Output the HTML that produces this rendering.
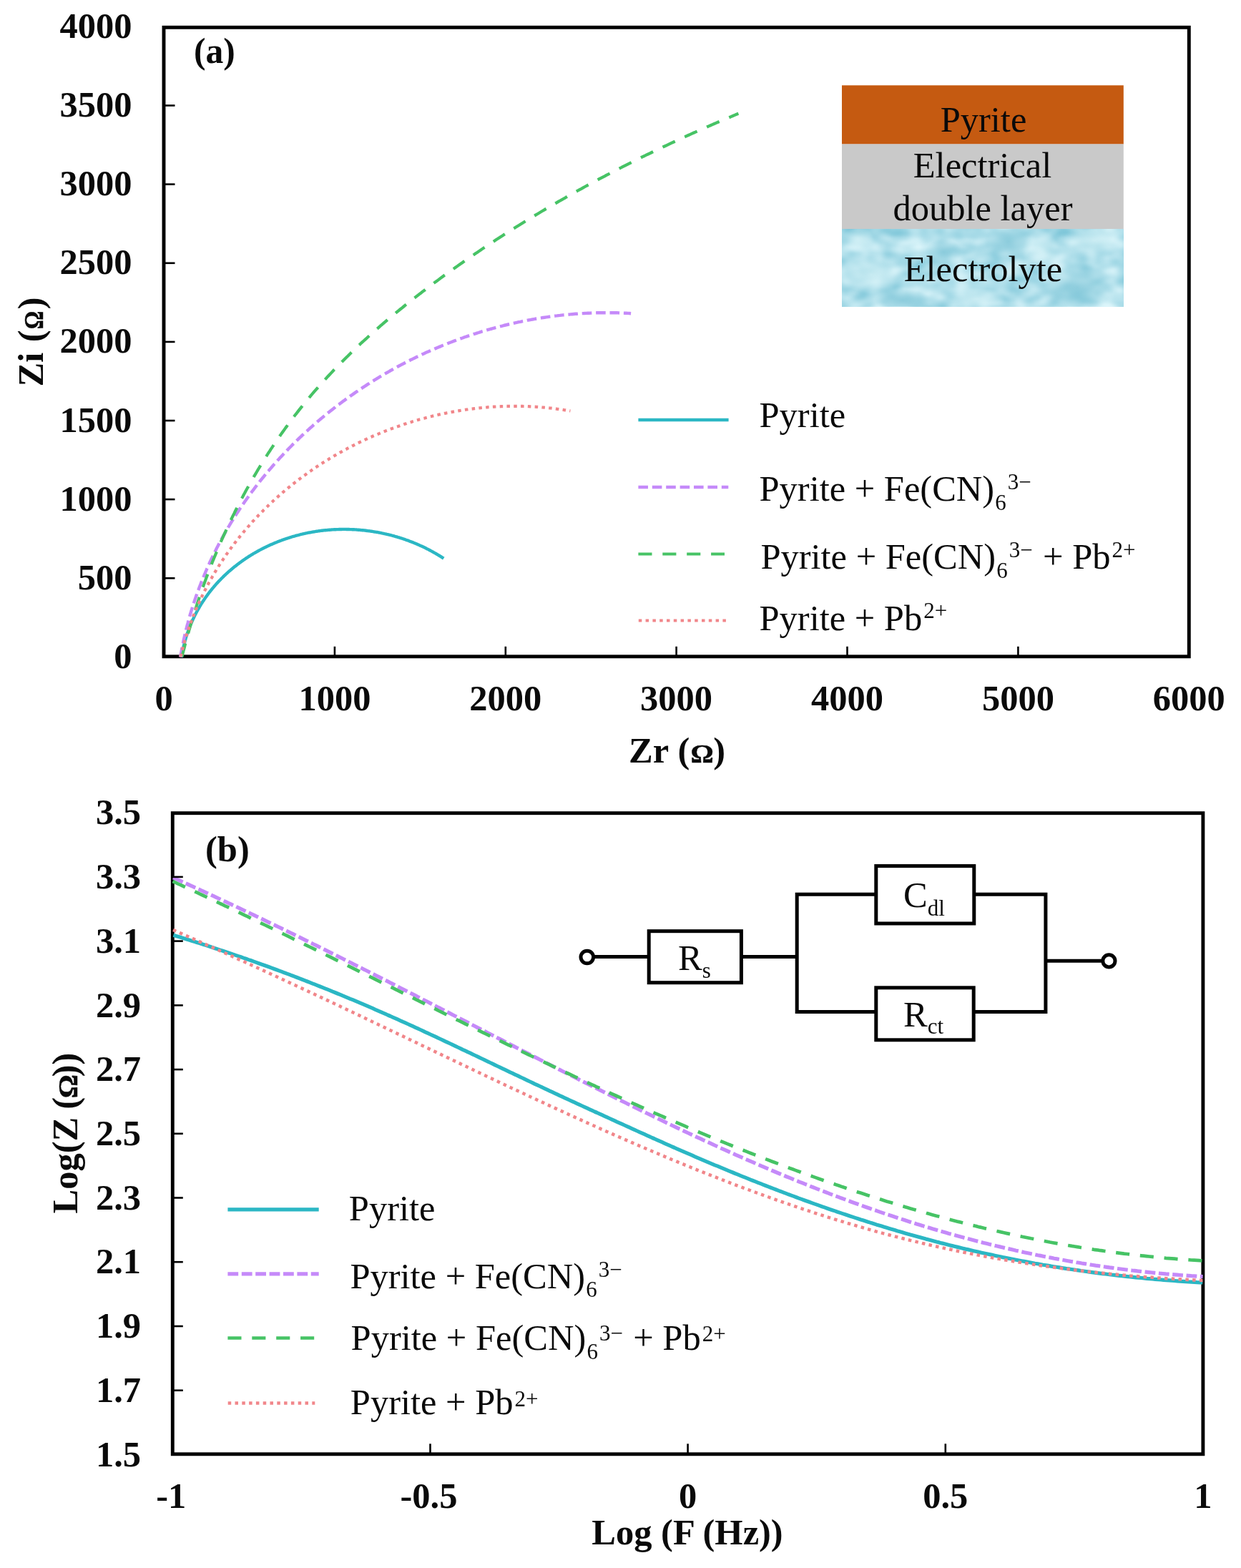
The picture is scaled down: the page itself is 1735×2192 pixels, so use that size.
<!DOCTYPE html>
<html lang="en"><head><meta charset="utf-8"><title>EIS Nyquist and Bode plots</title>
<style>
html,body{margin:0;padding:0;background:#fff;}
body{width:1735px;height:2192px;overflow:hidden;}
svg{display:block;}
text{font-family:"Liberation Serif","DejaVu Serif",serif;fill:#0a0a0a;}
.b{font-weight:bold;font-size:50.5px;}
.r{font-weight:normal;font-size:50.5px;}
.om{font-size:37px;stroke:#0a0a0a;stroke-width:0.5px;}
.ss{font-size:31px;}
.fr{fill:none;stroke:#000;stroke-width:4.9;}
.tk{fill:none;stroke:#000;stroke-width:2.6;}
.c{fill:none;stroke-width:4.4;stroke-linejoin:round;}
#plot-b .c{stroke-width:5.2;}
.c.gr{stroke-width:4.2;}
.c.re{stroke-width:4.2;}
#plot-b .c.gr{stroke-width:4.7;}
#plot-b .c.re{stroke-width:4.5;}
.cy{stroke:#2bb7c4;}
.pu{stroke:#c58af9;stroke-dasharray:13.6 5.8;}
#plot-b .pu{stroke-dasharray:14.8 4.6;}
.c.pu{stroke-width:4.4;}
#plot-b .c.pu{stroke-width:5.2;}
.gr{stroke:#46c365;stroke-dasharray:19.1 14.8;}
.re{stroke:#f1868a;stroke-dasharray:4.5 5.3;}
.ck{fill:none;stroke:#000;stroke-width:5;}
</style></head><body>
<svg width="1735" height="2192" viewBox="0 0 1735 2192">
<defs>
<filter id="water" x="0" y="0" width="100%" height="100%" color-interpolation-filters="sRGB">
<feTurbulence type="fractalNoise" baseFrequency="0.03 0.045" numOctaves="2" seed="11" result="n"/>
<feColorMatrix in="n" type="matrix" values="0.5 0 0 0 0.44  0.25 0 0 0 0.75  0.18 0 0 0 0.83  0 0 0 0 1"/>
</filter>
<radialGradient id="wd" cx="0.5" cy="0.5" r="0.5"><stop offset="0" stop-color="#86c9da" stop-opacity="0.85"/><stop offset="1" stop-color="#86c9da" stop-opacity="0"/></radialGradient>
<radialGradient id="wl" cx="0.5" cy="0.5" r="0.5"><stop offset="0" stop-color="#d4f1f6" stop-opacity="0.8"/><stop offset="1" stop-color="#d4f1f6" stop-opacity="0"/></radialGradient>
<clipPath id="wclip"><rect x="1177" y="320.8" width="393.8" height="107.5"/></clipPath>
<filter id="soft" x="0" y="0" width="100%" height="100%" filterUnits="objectBoundingBox" color-interpolation-filters="sRGB"><feGaussianBlur stdDeviation="0.65"/></filter>
</defs>
<g filter="url(#soft)">
<rect x="0" y="0" width="1735" height="2192" fill="#fff"/>
<g id="plot-a">
<rect class="fr" x="229.0" y="38.3" width="1433.3" height="879.5"/>
<path class="c cy" d="M253.7 918.9 L253.9 917.7 L254.1 916.4 L254.3 915.2 L254.5 914.0 L254.7 912.8 L255.0 911.5 L255.2 910.3 L255.5 909.1 L255.7 907.9 L256.0 906.7 L256.2 905.5 L256.5 904.3 L256.8 903.2 L257.1 902.0 L257.4 900.8 L257.7 899.6 L258.0 898.4 L258.3 897.3 L258.6 896.1 L259.0 894.9 L259.3 893.8 L259.6 892.6 L260.0 891.5 L260.3 890.3 L260.7 889.2 L261.1 888.0 L261.4 886.9 L261.8 885.8 L262.2 884.6 L262.6 883.5 L263.0 882.4 L263.4 881.3 L263.8 880.2 L264.2 879.1 L264.6 878.0 L265.1 876.9 L265.5 875.8 L265.9 874.7 L266.4 873.6 L266.8 872.5 L267.3 871.4 L267.8 870.3 L268.2 869.2 L268.7 868.2 L269.2 867.1 L269.7 866.0 L270.2 865.0 L270.7 863.9 L271.2 862.9 L271.7 861.8 L272.2 860.8 L272.7 859.7 L273.3 858.7 L273.8 857.7 L274.3 856.6 L274.9 855.6 L275.4 854.6 L276.0 853.6 L276.5 852.6 L277.1 851.6 L277.7 850.6 L278.3 849.6 L278.9 848.6 L279.4 847.6 L280.0 846.6 L280.6 845.6 L281.2 844.6 L281.9 843.6 L282.5 842.7 L283.1 841.7 L283.7 840.7 L284.4 839.8 L285.0 838.8 L285.6 837.9 L286.3 836.9 L286.9 836.0 L287.6 835.0 L288.3 834.1 L288.9 833.2 L289.6 832.3 L290.3 831.3 L291.0 830.4 L291.6 829.5 L292.3 828.6 L293.0 827.7 L293.7 826.8 L294.4 825.9 L295.2 825.0 L295.9 824.1 L296.6 823.2 L297.3 822.3 L298.1 821.5 L298.8 820.6 L299.5 819.7 L300.3 818.9 L301.0 818.0 L301.8 817.1 L302.5 816.3 L303.3 815.4 L304.1 814.6 L304.8 813.8 L305.6 812.9 L306.4 812.1 L307.2 811.3 L308.0 810.5 L308.8 809.6 L309.6 808.8 L310.4 808.0 L311.2 807.2 L312.0 806.4 L312.8 805.6 L313.6 804.8 L314.5 804.1 L315.3 803.3 L316.1 802.5 L316.9 801.7 L317.8 801.0 L318.6 800.2 L319.5 799.4 L320.3 798.7 L321.2 797.9 L322.1 797.2 L322.9 796.4 L323.8 795.7 L324.7 795.0 L325.5 794.2 L326.4 793.5 L327.3 792.8 L328.2 792.1 L329.1 791.4 L330.0 790.7 L330.9 790.0 L331.8 789.3 L332.7 788.6 L333.6 787.9 L334.5 787.2 L335.4 786.5 L336.3 785.9 L337.3 785.2 L338.2 784.5 L339.1 783.9 L340.0 783.2 L341.0 782.6 L341.9 781.9 L342.9 781.3 L343.8 780.6 L344.8 780.0 L345.7 779.4 L346.7 778.8 L347.6 778.1 L348.6 777.5 L349.6 776.9 L350.5 776.3 L351.5 775.7 L352.5 775.1 L353.5 774.5 L354.4 773.9 L355.4 773.4 L356.4 772.8 L357.4 772.2 L358.4 771.7 L359.4 771.1 L360.4 770.5 L361.4 770.0 L362.4 769.4 L363.4 768.9 L364.4 768.4 L365.4 767.8 L366.5 767.3 L367.5 766.8 L368.5 766.3 L369.5 765.7 L370.5 765.2 L371.6 764.7 L372.6 764.2 L373.6 763.7 L374.7 763.3 L375.7 762.8 L376.8 762.3 L377.8 761.8 L378.9 761.3 L379.9 760.9 L381.0 760.4 L382.0 760.0 L383.1 759.5 L384.1 759.1 L385.2 758.6 L386.3 758.2 L387.3 757.8 L388.4 757.3 L389.5 756.9 L390.5 756.5 L391.6 756.1 L392.7 755.7 L393.8 755.3 L394.8 754.9 L395.9 754.5 L397.0 754.1 L398.1 753.7 L399.2 753.4 L400.3 753.0 L401.4 752.6 L402.5 752.3 L403.6 751.9 L404.7 751.6 L405.8 751.2 L406.9 750.9 L408.0 750.5 L409.1 750.2 L410.2 749.9 L411.3 749.6 L412.4 749.3 L413.5 748.9 L414.6 748.6 L415.7 748.3 L416.8 748.1 L418.0 747.8 L419.1 747.5 L420.2 747.2 L421.3 746.9 L422.4 746.7 L423.6 746.4 L424.7 746.1 L425.8 745.9 L427.0 745.6 L428.1 745.4 L429.2 745.2 L430.3 744.9 L431.5 744.7 L432.6 744.5 L433.8 744.3 L434.9 744.1 L436.0 743.9 L437.2 743.7 L438.3 743.5 L439.4 743.3 L440.6 743.1 L441.7 742.9 L442.9 742.7 L444.0 742.6 L445.2 742.4 L446.3 742.2 L447.5 742.1 L448.6 741.9 L449.8 741.8 L450.9 741.7 L452.1 741.5 L453.2 741.4 L454.4 741.3 L455.5 741.2 L456.7 741.1 L457.8 741.0 L459.0 740.9 L460.1 740.8 L461.3 740.7 L462.5 740.6 L463.6 740.5 L464.8 740.4 L465.9 740.4 L467.1 740.3 L468.2 740.2 L469.4 740.2 L470.6 740.1 L471.7 740.1 L472.9 740.1 L474.0 740.0 L475.2 740.0 L476.4 740.0 L477.5 740.0 L478.7 739.9 L479.8 739.9 L481.0 739.9 L482.2 739.9 L483.3 739.9 L484.5 740.0 L485.6 740.0 L486.8 740.0 L488.0 740.0 L489.1 740.1 L490.3 740.1 L491.5 740.1 L492.6 740.2 L493.8 740.2 L494.9 740.3 L496.1 740.4 L497.3 740.4 L498.4 740.5 L499.6 740.6 L500.7 740.7 L501.9 740.8 L503.0 740.9 L504.2 741.0 L505.4 741.1 L506.5 741.2 L507.7 741.3 L508.8 741.4 L510.0 741.5 L511.1 741.7 L512.3 741.8 L513.4 742.0 L514.6 742.1 L515.8 742.3 L516.9 742.4 L518.1 742.6 L519.2 742.7 L520.4 742.9 L521.5 743.1 L522.7 743.3 L523.8 743.5 L524.9 743.6 L526.1 743.8 L527.2 744.0 L528.4 744.2 L529.5 744.5 L530.7 744.7 L531.8 744.9 L532.9 745.1 L534.1 745.4 L535.2 745.6 L536.4 745.8 L537.5 746.1 L538.6 746.3 L539.8 746.6 L540.9 746.9 L542.0 747.1 L543.1 747.4 L544.3 747.7 L545.4 748.0 L546.5 748.2 L547.6 748.5 L548.8 748.8 L549.9 749.1 L551.0 749.4 L552.1 749.8 L553.2 750.1 L554.3 750.4 L555.5 750.7 L556.6 751.1 L557.7 751.4 L558.8 751.7 L559.9 752.1 L561.0 752.4 L562.1 752.8 L563.2 753.2 L564.3 753.5 L565.4 753.9 L566.5 754.3 L567.6 754.7 L568.7 755.1 L569.8 755.4 L570.9 755.8 L571.9 756.2 L573.0 756.7 L574.1 757.1 L575.2 757.5 L576.3 757.9 L577.3 758.3 L578.4 758.8 L579.5 759.2 L580.6 759.6 L581.6 760.1 L582.7 760.5 L583.8 761.0 L584.8 761.5 L585.9 761.9 L586.9 762.4 L588.0 762.9 L589.0 763.4 L590.1 763.8 L591.1 764.3 L592.2 764.8 L593.2 765.3 L594.3 765.8 L595.3 766.3 L596.3 766.9 L597.4 767.4 L598.4 767.9 L599.4 768.4 L600.4 769.0 L601.5 769.5 L602.5 770.1 L603.5 770.6 L604.5 771.2 L605.5 771.7 L606.5 772.3 L607.5 772.9 L608.5 773.4 L609.5 774.0 L610.5 774.6 L611.5 775.2 L612.5 775.8 L613.5 776.4 L614.5 777.0 L615.5 777.6 L616.5 778.2 L617.4 778.8 L618.4 779.5 L619.4 780.1 L620.3 780.7"/>
<path class="c pu" d="M252.1 918.6 L252.5 916.4 L252.9 914.2 L253.3 912.1 L253.7 909.9 L254.1 907.7 L254.5 905.5 L255.0 903.3 L255.4 901.1 L255.9 899.0 L256.3 896.8 L256.8 894.6 L257.3 892.4 L257.8 890.3 L258.3 888.1 L258.8 886.0 L259.3 883.8 L259.8 881.7 L260.3 879.5 L260.9 877.4 L261.4 875.3 L262.0 873.1 L262.6 871.0 L263.1 868.9 L263.7 866.8 L264.3 864.6 L264.9 862.5 L265.5 860.4 L266.1 858.3 L266.8 856.2 L267.4 854.1 L268.1 852.0 L268.7 849.9 L269.4 847.8 L270.0 845.7 L270.7 843.7 L271.4 841.6 L272.1 839.5 L272.8 837.4 L273.5 835.4 L274.2 833.3 L275.0 831.3 L275.7 829.2 L276.4 827.2 L277.2 825.1 L278.0 823.1 L278.7 821.0 L279.5 819.0 L280.3 817.0 L281.1 814.9 L281.9 812.9 L282.7 810.9 L283.5 808.9 L284.3 806.9 L285.2 804.9 L286.0 802.9 L286.9 800.9 L287.7 798.9 L288.6 796.9 L289.4 794.9 L290.3 792.9 L291.2 790.9 L292.1 789.0 L293.0 787.0 L293.9 785.0 L294.8 783.1 L295.8 781.1 L296.7 779.1 L297.6 777.2 L298.6 775.2 L299.5 773.3 L300.5 771.4 L301.5 769.4 L302.4 767.5 L303.4 765.6 L304.4 763.7 L305.4 761.7 L306.4 759.8 L307.5 757.9 L308.5 756.0 L309.5 754.1 L310.5 752.2 L311.6 750.3 L312.6 748.5 L313.7 746.6 L314.8 744.7 L315.8 742.8 L316.9 741.0 L318.0 739.1 L319.1 737.2 L320.2 735.4 L321.3 733.5 L322.4 731.7 L323.5 729.8 L324.7 728.0 L325.8 726.2 L326.9 724.3 L328.1 722.5 L329.3 720.7 L330.4 718.9 L331.6 717.1 L332.8 715.3 L333.9 713.5 L335.1 711.7 L336.3 709.9 L337.5 708.1 L338.8 706.3 L340.0 704.5 L341.2 702.8 L342.4 701.0 L343.7 699.2 L344.9 697.5 L346.2 695.7 L347.4 694.0 L348.7 692.2 L349.9 690.5 L351.2 688.8 L352.5 687.0 L353.8 685.3 L355.1 683.6 L356.4 681.9 L357.7 680.2 L359.0 678.5 L360.3 676.8 L361.7 675.1 L363.0 673.4 L364.3 671.7 L365.7 670.0 L367.0 668.3 L368.4 666.7 L369.8 665.0 L371.1 663.3 L372.5 661.7 L373.9 660.0 L375.3 658.4 L376.7 656.7 L378.1 655.1 L379.5 653.5 L380.9 651.8 L382.3 650.2 L383.7 648.6 L385.2 647.0 L386.6 645.4 L388.0 643.8 L389.5 642.2 L390.9 640.6 L392.4 639.0 L393.9 637.4 L395.3 635.9 L396.8 634.3 L398.3 632.7 L399.8 631.2 L401.3 629.6 L402.8 628.1 L404.3 626.5 L405.8 625.0 L407.3 623.5 L408.8 621.9 L410.3 620.4 L411.9 618.9 L413.4 617.4 L414.9 615.9 L416.5 614.4 L418.0 612.9 L419.6 611.4 L421.2 609.9 L422.7 608.4 L424.3 607.0 L425.9 605.5 L427.5 604.0 L429.1 602.6 L430.7 601.1 L432.3 599.7 L433.9 598.2 L435.5 596.8 L437.1 595.4 L438.7 593.9 L440.3 592.5 L442.0 591.1 L443.6 589.7 L445.2 588.3 L446.9 586.9 L448.5 585.5 L450.2 584.1 L451.9 582.7 L453.5 581.4 L455.2 580.0 L456.9 578.6 L458.5 577.3 L460.2 575.9 L461.9 574.6 L463.6 573.2 L465.3 571.9 L467.0 570.6 L468.7 569.3 L470.4 567.9 L472.1 566.6 L473.9 565.3 L475.6 564.0 L477.3 562.7 L479.0 561.4 L480.8 560.2 L482.5 558.9 L484.3 557.6 L486.0 556.4 L487.8 555.1 L489.5 553.8 L491.3 552.6 L493.1 551.4 L494.9 550.1 L496.6 548.9 L498.4 547.7 L500.2 546.5 L502.0 545.2 L503.8 544.0 L505.6 542.8 L507.4 541.6 L509.2 540.5 L511.0 539.3 L512.8 538.1 L514.6 536.9 L516.5 535.8 L518.3 534.6 L520.1 533.5 L522.0 532.3 L523.8 531.2 L525.6 530.1 L527.5 528.9 L529.3 527.8 L531.2 526.7 L533.0 525.6 L534.9 524.5 L536.8 523.4 L538.6 522.3 L540.5 521.2 L542.4 520.2 L544.3 519.1 L546.1 518.0 L548.0 517.0 L549.9 515.9 L551.8 514.9 L553.7 513.8 L555.6 512.8 L557.5 511.8 L559.4 510.8 L561.3 509.7 L563.3 508.7 L565.2 507.7 L567.1 506.7 L569.0 505.8 L571.0 504.8 L572.9 503.8 L574.8 502.8 L576.8 501.9 L578.7 500.9 L580.6 500.0 L582.6 499.0 L584.5 498.1 L586.5 497.2 L588.5 496.3 L590.4 495.3 L592.4 494.4 L594.3 493.5 L596.3 492.6 L598.3 491.7 L600.3 490.9 L602.2 490.0 L604.2 489.1 L606.2 488.3 L608.2 487.4 L610.2 486.6 L612.2 485.7 L614.2 484.9 L616.2 484.1 L618.2 483.2 L620.2 482.4 L622.2 481.6 L624.2 480.8 L626.2 480.0 L628.2 479.2 L630.2 478.5 L632.2 477.7 L634.3 476.9 L636.3 476.2 L638.3 475.4 L640.3 474.7 L642.4 473.9 L644.4 473.2 L646.5 472.5 L648.5 471.7 L650.5 471.0 L652.6 470.3 L654.6 469.6 L656.7 468.9 L658.7 468.3 L660.8 467.6 L662.8 466.9 L664.9 466.3 L666.9 465.6 L669.0 465.0 L671.1 464.3 L673.1 463.7 L675.2 463.1 L677.3 462.4 L679.4 461.8 L681.4 461.2 L683.5 460.6 L685.6 460.0 L687.7 459.5 L689.7 458.9 L691.8 458.3 L693.9 457.7 L696.0 457.2 L698.1 456.6 L700.2 456.1 L702.3 455.6 L704.4 455.0 L706.5 454.5 L708.6 454.0 L710.7 453.5 L712.8 453.0 L714.9 452.5 L717.0 452.1 L719.1 451.6 L721.2 451.1 L723.3 450.7 L725.4 450.2 L727.5 449.8 L729.6 449.3 L731.8 448.9 L733.9 448.5 L736.0 448.1 L738.1 447.6 L740.2 447.3 L742.4 446.9 L744.5 446.5 L746.6 446.1 L748.7 445.7 L750.9 445.4 L753.0 445.0 L755.1 444.7 L757.3 444.3 L759.4 444.0 L761.5 443.7 L763.7 443.4 L765.8 443.1 L767.9 442.8 L770.1 442.5 L772.2 442.2 L774.3 441.9 L776.5 441.6 L778.6 441.4 L780.8 441.1 L782.9 440.9 L785.1 440.6 L787.2 440.4 L789.4 440.2 L791.5 440.0 L793.7 439.8 L795.8 439.6 L797.9 439.4 L800.1 439.2 L802.3 439.0 L804.4 438.8 L806.6 438.7 L808.7 438.5 L810.9 438.4 L813.0 438.2 L815.2 438.1 L817.3 438.0 L819.5 437.9 L821.6 437.8 L823.8 437.7 L826.0 437.6 L828.1 437.5 L830.3 437.4 L832.4 437.4 L834.6 437.3 L836.7 437.3 L838.9 437.2 L841.1 437.2 L843.2 437.2 L845.4 437.2 L847.5 437.2 L849.7 437.2 L851.9 437.2 L854.0 437.2 L856.2 437.2 L858.3 437.2 L860.5 437.3 L862.7 437.3 L864.8 437.4 L867.0 437.5 L869.1 437.5 L871.3 437.6 L873.5 437.7 L875.6 437.8 L877.8 437.9 L880.0 438.0 L882.1 438.2"/>
<path class="c gr" d="M254.4 918.1 L255.1 915.3 L255.8 912.5 L256.5 909.8 L257.3 907.0 L258.0 904.2 L258.7 901.5 L259.4 898.7 L260.2 895.9 L260.9 893.2 L261.7 890.4 L262.5 887.7 L263.3 884.9 L264.0 882.2 L264.8 879.4 L265.6 876.7 L266.4 873.9 L267.2 871.2 L268.1 868.5 L268.9 865.7 L269.7 863.0 L270.6 860.3 L271.4 857.5 L272.3 854.8 L273.2 852.1 L274.0 849.3 L274.9 846.6 L275.8 843.9 L276.7 841.2 L277.6 838.5 L278.5 835.8 L279.4 833.0 L280.4 830.3 L281.3 827.6 L282.2 824.9 L283.2 822.2 L284.2 819.5 L285.1 816.9 L286.1 814.2 L287.1 811.5 L288.1 808.8 L289.1 806.1 L290.1 803.4 L291.1 800.8 L292.1 798.1 L293.1 795.4 L294.2 792.8 L295.2 790.1 L296.3 787.4 L297.3 784.8 L298.4 782.1 L299.5 779.5 L300.6 776.9 L301.7 774.2 L302.8 771.6 L303.9 768.9 L305.0 766.3 L306.1 763.7 L307.2 761.1 L308.4 758.4 L309.5 755.8 L310.7 753.2 L311.8 750.6 L313.0 748.0 L314.2 745.4 L315.4 742.8 L316.6 740.2 L317.8 737.6 L319.0 735.1 L320.2 732.5 L321.4 729.9 L322.6 727.3 L323.9 724.8 L325.1 722.2 L326.4 719.6 L327.7 717.1 L328.9 714.5 L330.2 712.0 L331.5 709.5 L332.8 706.9 L334.1 704.4 L335.4 701.9 L336.7 699.4 L338.0 696.8 L339.4 694.3 L340.7 691.8 L342.1 689.3 L343.4 686.8 L344.8 684.3 L346.2 681.8 L347.6 679.4 L349.0 676.9 L350.4 674.4 L351.8 671.9 L353.2 669.5 L354.6 667.0 L356.0 664.6 L357.5 662.1 L358.9 659.7 L360.4 657.2 L361.8 654.8 L363.3 652.4 L364.8 650.0 L366.3 647.5 L367.8 645.1 L369.3 642.7 L370.8 640.3 L372.3 637.9 L373.8 635.5 L375.3 633.2 L376.9 630.8 L378.4 628.4 L380.0 626.1 L381.6 623.7 L383.1 621.3 L384.7 619.0 L386.3 616.7 L387.9 614.3 L389.5 612.0 L391.1 609.7 L392.7 607.4 L394.4 605.0 L396.0 602.7 L397.7 600.4 L399.3 598.1 L401.0 595.9 L402.6 593.6 L404.3 591.3 L406.0 589.0 L407.7 586.8 L409.4 584.5 L411.1 582.3 L412.8 580.0 L414.6 577.8 L416.3 575.6 L418.0 573.4 L419.8 571.1 L421.6 568.9 L423.3 566.7 L425.1 564.5 L426.9 562.4 L428.7 560.2 L430.5 558.0 L432.3 555.8 L434.1 553.7 L435.9 551.5 L437.7 549.4 L439.6 547.2 L441.4 545.1 L443.3 543.0 L445.2 540.9 L447.0 538.8 L448.9 536.7 L450.8 534.6 L452.7 532.5 L454.6 530.4 L456.5 528.3 L458.4 526.2 L460.3 524.2 L462.3 522.1 L464.2 520.1 L466.1 518.0 L468.1 516.0 L470.0 513.9 L472.0 511.9 L474.0 509.9 L476.0 507.9 L477.9 505.9 L479.9 503.9 L481.9 501.9 L483.9 499.9 L486.0 497.9 L488.0 495.9 L490.0 494.0 L492.0 492.0 L494.1 490.0 L496.1 488.1 L498.2 486.1 L500.2 484.2 L502.3 482.3 L504.3 480.3 L506.4 478.4 L508.5 476.5 L510.6 474.6 L512.7 472.7 L514.8 470.8 L516.9 468.9 L519.0 467.0 L521.1 465.1 L523.2 463.2 L525.3 461.3 L527.5 459.5 L529.6 457.6 L531.7 455.7 L533.9 453.9 L536.0 452.0 L538.2 450.2 L540.3 448.4 L542.5 446.5 L544.7 444.7 L546.8 442.9 L549.0 441.1 L551.2 439.2 L553.4 437.4 L555.6 435.6 L557.8 433.8 L560.0 432.0 L562.2 430.3 L564.4 428.5 L566.6 426.7 L568.8 424.9 L571.1 423.2 L573.3 421.4 L575.5 419.6 L577.7 417.9 L580.0 416.1 L582.2 414.4 L584.5 412.6 L586.7 410.9 L589.0 409.2 L591.2 407.4 L593.5 405.7 L595.7 404.0 L598.0 402.3 L600.3 400.6 L602.5 398.9 L604.8 397.1 L607.1 395.4 L609.4 393.8 L611.7 392.1 L614.0 390.4 L616.2 388.7 L618.5 387.0 L620.8 385.3 L623.1 383.7 L625.4 382.0 L627.7 380.3 L630.1 378.7 L632.4 377.0 L634.7 375.4 L637.0 373.7 L639.3 372.1 L641.6 370.4 L644.0 368.8 L646.3 367.2 L648.6 365.5 L650.9 363.9 L653.3 362.3 L655.6 360.7 L658.0 359.1 L660.3 357.5 L662.7 355.9 L665.0 354.2 L667.4 352.7 L669.7 351.1 L672.1 349.5 L674.4 347.9 L676.8 346.3 L679.2 344.7 L681.5 343.2 L683.9 341.6 L686.3 340.0 L688.6 338.5 L691.0 336.9 L693.4 335.3 L695.8 333.8 L698.2 332.2 L700.5 330.7 L702.9 329.2 L705.3 327.6 L707.7 326.1 L710.1 324.6 L712.5 323.0 L714.9 321.5 L717.3 320.0 L719.7 318.5 L722.1 317.0 L724.6 315.5 L727.0 314.0 L729.4 312.5 L731.8 311.0 L734.2 309.5 L736.6 308.0 L739.1 306.5 L741.5 305.0 L743.9 303.6 L746.4 302.1 L748.8 300.6 L751.2 299.2 L753.7 297.7 L756.1 296.3 L758.6 294.8 L761.0 293.4 L763.4 291.9 L765.9 290.5 L768.3 289.0 L770.8 287.6 L773.3 286.2 L775.7 284.7 L778.2 283.3 L780.6 281.9 L783.1 280.5 L785.6 279.1 L788.0 277.7 L790.5 276.3 L793.0 274.8 L795.5 273.5 L797.9 272.1 L800.4 270.7 L802.9 269.3 L805.4 267.9 L807.8 266.5 L810.3 265.1 L812.8 263.8 L815.3 262.4 L817.8 261.0 L820.3 259.7 L822.8 258.3 L825.3 257.0 L827.8 255.6 L830.3 254.3 L832.8 252.9 L835.3 251.6 L837.8 250.2 L840.3 248.9 L842.8 247.6 L845.3 246.3 L847.8 244.9 L850.4 243.6 L852.9 242.3 L855.4 241.0 L857.9 239.7 L860.4 238.4 L862.9 237.1 L865.5 235.8 L868.0 234.5 L870.5 233.2 L873.1 231.9 L875.6 230.6 L878.1 229.3 L880.6 228.1 L883.2 226.8 L885.7 225.5 L888.3 224.3 L890.8 223.0 L893.3 221.7 L895.9 220.5 L898.4 219.2 L901.0 218.0 L903.5 216.7 L906.1 215.5 L908.6 214.3 L911.2 213.0 L913.7 211.8 L916.3 210.6 L918.8 209.3 L921.4 208.1 L923.9 206.9 L926.5 205.7 L929.1 204.5 L931.6 203.3 L934.2 202.1 L936.7 200.9 L939.3 199.7 L941.9 198.5 L944.4 197.3 L947.0 196.1 L949.6 194.9 L952.2 193.7 L954.7 192.5 L957.3 191.4 L959.9 190.2 L962.5 189.0 L965.0 187.9 L967.6 186.7 L970.2 185.5 L972.8 184.4 L975.4 183.2 L977.9 182.1 L980.5 181.0 L983.1 179.8 L985.7 178.7 L988.3 177.5 L990.9 176.4 L993.5 175.3 L996.0 174.2 L998.6 173.0 L1001.2 171.9 L1003.8 170.8 L1006.4 169.7 L1009.0 168.6 L1011.6 167.5 L1014.2 166.4 L1016.8 165.3 L1019.4 164.2 L1022.0 163.1 L1024.6 162.0 L1027.2 160.9 L1029.8 159.8 L1032.4 158.8"/>
<path class="c re" d="M252.4 918.2 L252.9 916.4 L253.3 914.7 L253.7 912.9 L254.2 911.1 L254.6 909.4 L255.1 907.6 L255.5 905.9 L256.0 904.1 L256.5 902.4 L257.0 900.6 L257.5 898.9 L258.0 897.2 L258.5 895.4 L259.0 893.7 L259.5 892.0 L260.0 890.3 L260.6 888.5 L261.1 886.8 L261.7 885.1 L262.2 883.4 L262.8 881.7 L263.4 880.0 L264.0 878.3 L264.5 876.6 L265.1 874.9 L265.7 873.2 L266.3 871.5 L267.0 869.9 L267.6 868.2 L268.2 866.5 L268.9 864.9 L269.5 863.2 L270.1 861.5 L270.8 859.9 L271.5 858.2 L272.1 856.6 L272.8 854.9 L273.5 853.3 L274.2 851.6 L274.9 850.0 L275.6 848.4 L276.3 846.7 L277.0 845.1 L277.8 843.5 L278.5 841.9 L279.2 840.3 L280.0 838.6 L280.7 837.0 L281.5 835.4 L282.3 833.8 L283.0 832.2 L283.8 830.7 L284.6 829.1 L285.4 827.5 L286.2 825.9 L287.0 824.3 L287.8 822.8 L288.6 821.2 L289.4 819.6 L290.3 818.1 L291.1 816.5 L291.9 814.9 L292.8 813.4 L293.6 811.9 L294.5 810.3 L295.4 808.8 L296.3 807.2 L297.1 805.7 L298.0 804.2 L298.9 802.7 L299.8 801.1 L300.7 799.6 L301.6 798.1 L302.5 796.6 L303.5 795.1 L304.4 793.6 L305.3 792.1 L306.3 790.6 L307.2 789.2 L308.2 787.7 L309.1 786.2 L310.1 784.7 L311.1 783.3 L312.0 781.8 L313.0 780.3 L314.0 778.9 L315.0 777.4 L316.0 776.0 L317.0 774.5 L318.0 773.1 L319.0 771.6 L320.0 770.2 L321.1 768.8 L322.1 767.4 L323.1 765.9 L324.2 764.5 L325.2 763.1 L326.3 761.7 L327.4 760.3 L328.4 758.9 L329.5 757.5 L330.6 756.1 L331.7 754.7 L332.7 753.4 L333.8 752.0 L334.9 750.6 L336.0 749.2 L337.1 747.9 L338.3 746.5 L339.4 745.2 L340.5 743.8 L341.6 742.5 L342.8 741.1 L343.9 739.8 L345.1 738.4 L346.2 737.1 L347.4 735.8 L348.5 734.5 L349.7 733.2 L350.9 731.8 L352.0 730.5 L353.2 729.2 L354.4 727.9 L355.6 726.6 L356.8 725.4 L358.0 724.1 L359.2 722.8 L360.4 721.5 L361.6 720.2 L362.9 719.0 L364.1 717.7 L365.3 716.5 L366.6 715.2 L367.8 714.0 L369.0 712.7 L370.3 711.5 L371.5 710.2 L372.8 709.0 L374.1 707.8 L375.3 706.6 L376.6 705.3 L377.9 704.1 L379.2 702.9 L380.5 701.7 L381.7 700.5 L383.0 699.3 L384.3 698.2 L385.6 697.0 L387.0 695.8 L388.3 694.6 L389.6 693.4 L390.9 692.3 L392.2 691.1 L393.6 690.0 L394.9 688.8 L396.2 687.7 L397.6 686.5 L398.9 685.4 L400.3 684.3 L401.6 683.1 L403.0 682.0 L404.4 680.9 L405.7 679.8 L407.1 678.7 L408.5 677.6 L409.9 676.5 L411.3 675.4 L412.6 674.3 L414.0 673.2 L415.4 672.1 L416.8 671.1 L418.2 670.0 L419.7 668.9 L421.1 667.9 L422.5 666.8 L423.9 665.8 L425.3 664.7 L426.8 663.7 L428.2 662.7 L429.6 661.6 L431.1 660.6 L432.5 659.6 L434.0 658.6 L435.4 657.6 L436.9 656.6 L438.3 655.6 L439.8 654.6 L441.3 653.6 L442.7 652.6 L444.2 651.6 L445.7 650.7 L447.2 649.7 L448.6 648.7 L450.1 647.8 L451.6 646.8 L453.1 645.9 L454.6 645.0 L456.1 644.0 L457.6 643.1 L459.1 642.2 L460.6 641.2 L462.2 640.3 L463.7 639.4 L465.2 638.5 L466.7 637.6 L468.2 636.7 L469.8 635.8 L471.3 634.9 L472.8 634.1 L474.4 633.2 L475.9 632.3 L477.5 631.5 L479.0 630.6 L480.6 629.8 L482.1 628.9 L483.7 628.1 L485.2 627.2 L486.8 626.4 L488.4 625.6 L490.0 624.8 L491.5 624.0 L493.1 623.1 L494.7 622.3 L496.3 621.5 L497.8 620.8 L499.4 620.0 L501.0 619.2 L502.6 618.4 L504.2 617.6 L505.8 616.9 L507.4 616.1 L509.0 615.4 L510.6 614.6 L512.2 613.9 L513.8 613.1 L515.5 612.4 L517.1 611.7 L518.7 611.0 L520.3 610.2 L521.9 609.5 L523.6 608.8 L525.2 608.1 L526.8 607.4 L528.5 606.8 L530.1 606.1 L531.7 605.4 L533.4 604.7 L535.0 604.1 L536.7 603.4 L538.3 602.8 L540.0 602.1 L541.6 601.5 L543.3 600.8 L544.9 600.2 L546.6 599.6 L548.3 599.0 L549.9 598.3 L551.6 597.7 L553.3 597.1 L554.9 596.5 L556.6 596.0 L558.3 595.4 L559.9 594.8 L561.6 594.2 L563.3 593.7 L565.0 593.1 L566.7 592.5 L568.4 592.0 L570.0 591.4 L571.7 590.9 L573.4 590.4 L575.1 589.9 L576.8 589.3 L578.5 588.8 L580.2 588.3 L581.9 587.8 L583.6 587.3 L585.3 586.8 L587.0 586.3 L588.7 585.9 L590.4 585.4 L592.1 584.9 L593.9 584.5 L595.6 584.0 L597.3 583.6 L599.0 583.1 L600.7 582.7 L602.4 582.3 L604.2 581.8 L605.9 581.4 L607.6 581.0 L609.3 580.6 L611.0 580.2 L612.8 579.8 L614.5 579.4 L616.2 579.0 L618.0 578.7 L619.7 578.3 L621.4 577.9 L623.2 577.6 L624.9 577.2 L626.6 576.9 L628.4 576.6 L630.1 576.2 L631.9 575.9 L633.6 575.6 L635.3 575.3 L637.1 575.0 L638.8 574.7 L640.6 574.4 L642.3 574.1 L644.1 573.8 L645.8 573.5 L647.6 573.3 L649.3 573.0 L651.1 572.7 L652.8 572.5 L654.6 572.2 L656.3 572.0 L658.1 571.8 L659.9 571.6 L661.6 571.3 L663.4 571.1 L665.1 570.9 L666.9 570.7 L668.6 570.5 L670.4 570.3 L672.2 570.2 L673.9 570.0 L675.7 569.8 L677.4 569.7 L679.2 569.5 L681.0 569.4 L682.7 569.2 L684.5 569.1 L686.3 569.0 L688.0 568.8 L689.8 568.7 L691.6 568.6 L693.3 568.5 L695.1 568.4 L696.9 568.3 L698.6 568.3 L700.4 568.2 L702.2 568.1 L703.9 568.1 L705.7 568.0 L707.5 567.9 L709.2 567.9 L711.0 567.9 L712.8 567.8 L714.5 567.8 L716.3 567.8 L718.1 567.8 L719.9 567.8 L721.6 567.8 L723.4 567.8 L725.2 567.8 L726.9 567.9 L728.7 567.9 L730.5 567.9 L732.2 568.0 L734.0 568.0 L735.8 568.1 L737.5 568.1 L739.3 568.2 L741.1 568.3 L742.8 568.4 L744.6 568.5 L746.4 568.6 L748.1 568.7 L749.9 568.8 L751.7 568.9 L753.4 569.0 L755.2 569.2 L757.0 569.3 L758.7 569.5 L760.5 569.6 L762.3 569.8 L764.0 570.0 L765.8 570.1 L767.6 570.3 L769.3 570.5 L771.1 570.7 L772.8 570.9 L774.6 571.1 L776.4 571.3 L778.1 571.6 L779.9 571.8 L781.6 572.0 L783.4 572.3 L785.1 572.5 L786.9 572.8 L788.7 573.1 L790.4 573.3 L792.2 573.6 L793.9 573.9 L795.7 574.2 L797.4 574.5"/>
<line class="tk" x1="229.0" y1="808.3" x2="244.5" y2="808.3"/>
<line class="tk" x1="229.0" y1="698.1" x2="244.5" y2="698.1"/>
<line class="tk" x1="229.0" y1="588.0" x2="244.5" y2="588.0"/>
<line class="tk" x1="229.0" y1="477.9" x2="244.5" y2="477.9"/>
<line class="tk" x1="229.0" y1="367.8" x2="244.5" y2="367.8"/>
<line class="tk" x1="229.0" y1="257.6" x2="244.5" y2="257.6"/>
<line class="tk" x1="229.0" y1="147.5" x2="244.5" y2="147.5"/>
<line class="tk" x1="467.9" y1="917.8" x2="467.9" y2="903.8"/>
<line class="tk" x1="706.8" y1="917.8" x2="706.8" y2="903.8"/>
<line class="tk" x1="945.6" y1="917.8" x2="945.6" y2="903.8"/>
<line class="tk" x1="1184.5" y1="917.8" x2="1184.5" y2="903.8"/>
<line class="tk" x1="1423.4" y1="917.8" x2="1423.4" y2="903.8"/>
<text class="b" text-anchor="end" x="184.6" y="933.9">0</text>
<text class="b" text-anchor="end" x="184.6" y="823.8">500</text>
<text class="b" text-anchor="end" x="184.6" y="713.6">1000</text>
<text class="b" text-anchor="end" x="184.6" y="603.5">1500</text>
<text class="b" text-anchor="end" x="184.6" y="493.4">2000</text>
<text class="b" text-anchor="end" x="184.6" y="383.3">2500</text>
<text class="b" text-anchor="end" x="184.6" y="273.1">3000</text>
<text class="b" text-anchor="end" x="184.6" y="163.0">3500</text>
<text class="b" text-anchor="end" x="184.6" y="52.9">4000</text>
<text class="b" text-anchor="middle" x="229.0" y="993">0</text>
<text class="b" text-anchor="middle" x="467.9" y="993">1000</text>
<text class="b" text-anchor="middle" x="706.8" y="993">2000</text>
<text class="b" text-anchor="middle" x="945.6" y="993">3000</text>
<text class="b" text-anchor="middle" x="1184.5" y="993">4000</text>
<text class="b" text-anchor="middle" x="1423.4" y="993">5000</text>
<text class="b" text-anchor="middle" x="1662.3" y="993">6000</text>
<text class="b" x="271" y="88.3" style="font-size:49.6px">(a)</text>
<g transform="translate(946.6 1065.7)"><text class="b" word-spacing="0.6" x="-67.6" y="0">Zr (</text><text class="b om" style="font-size:36px" transform="translate(18.9 0) scale(1.120 1)" x="0" y="0">Ω</text><text class="b" x="50.7" y="0">)</text></g>
<g transform="translate(59.7 478.0) rotate(-90)"><text class="b" word-spacing="2" x="-62.5" y="0">Zi (</text><text class="b om" style="font-size:37px" transform="translate(17.7 0) scale(0.860 1)" x="0" y="0">Ω</text><text class="b" x="45.7" y="0">)</text></g>
<rect x="1177" y="119.3" width="393.8" height="82.3" fill="#c55a11"/>
<rect x="1177" y="201.4" width="393.8" height="119.5" fill="#c9c9c9"/>
<rect x="1177" y="320.8" width="393.8" height="107.5" fill="#a3d8e3"/>
<rect x="1177" y="320.8" width="393.8" height="107.5" fill="#a3d8e3" filter="url(#water)"/>
<g clip-path="url(#wclip)">
<ellipse cx="1410" cy="338" rx="34" ry="26" fill="url(#wd)"/>
<ellipse cx="1506" cy="402" rx="52" ry="34" fill="url(#wd)"/>
<ellipse cx="1319" cy="352" rx="26" ry="18" fill="url(#wd)"/>
<ellipse cx="1262" cy="420" rx="40" ry="16" fill="url(#wd)"/>
<ellipse cx="1218" cy="384" rx="46" ry="26" fill="url(#wl)"/>
<ellipse cx="1530" cy="336" rx="44" ry="22" fill="url(#wl)"/>
<ellipse cx="1365" cy="418" rx="40" ry="16" fill="url(#wl)"/>
<ellipse cx="1455" cy="352" rx="26" ry="30" fill="url(#wl)"/>
<ellipse cx="1200" cy="335" rx="22" ry="18" fill="url(#wl)"/>
</g>
<text class="r" text-anchor="middle" x="1375" y="184.3">Pyrite</text>
<text class="r" text-anchor="middle" x="1373.5" y="247.8">Electrical</text>
<text class="r" text-anchor="middle" x="1374" y="308.4">double layer</text>
<text class="r" text-anchor="middle" x="1374.5" y="392.6">Electrolyte</text>
<line class="c cy" x1="892.4" y1="587.0" x2="1018.6" y2="587.0"/>
<text class="r" x="1061.5" y="597.4">Pyrite</text>
<line class="c pu" x1="892.4" y1="681.0" x2="1018.3" y2="681.0"/>
<text class="r" x="1061.5" y="700.2">Pyrite + Fe(CN)<tspan class="ss" dx="1.2" dy="12.5">6</tspan><tspan class="ss" dx="2" dy="-28.5">3−</tspan></text>
<line class="c gr" x1="892.4" y1="774.5" x2="1013.0" y2="774.5"/>
<text class="r" x="1063.4" y="795.2">Pyrite + Fe(CN)<tspan class="ss" dx="1.2" dy="12.5">6</tspan><tspan class="ss" dx="2" dy="-28.5">3−</tspan><tspan dx="1.7" dy="16"> + Pb</tspan><tspan class="ss" dx="2" dy="-16.5">2+</tspan></text>
<line class="c re" x1="892.8" y1="867.5" x2="1015.0" y2="867.5"/>
<text class="r" x="1061.5" y="880.9">Pyrite + Pb<tspan class="ss" dx="2" dy="-16.5">2+</tspan></text>
</g>
<g id="plot-b">
<rect class="fr" x="241.3" y="1136.7" width="1440.6" height="896.1"/>
<path class="c cy" d="M242.4 1307.3 L246.1 1308.4 L249.7 1309.5 L253.4 1310.6 L257.0 1311.8 L260.7 1312.9 L264.3 1314.0 L268.0 1315.2 L271.6 1316.3 L275.3 1317.5 L278.9 1318.6 L282.5 1319.8 L286.2 1320.9 L289.8 1322.1 L293.4 1323.3 L297.0 1324.5 L300.6 1325.7 L304.3 1326.9 L307.9 1328.1 L311.5 1329.3 L315.1 1330.5 L318.7 1331.7 L322.3 1332.9 L325.9 1334.1 L329.5 1335.4 L333.1 1336.6 L336.7 1337.8 L340.3 1339.1 L343.9 1340.3 L347.5 1341.6 L351.1 1342.8 L354.7 1344.1 L358.2 1345.4 L361.8 1346.7 L365.4 1348.0 L369.0 1349.2 L372.6 1350.5 L376.1 1351.8 L379.7 1353.1 L383.3 1354.5 L386.8 1355.8 L390.4 1357.1 L394.0 1358.4 L397.5 1359.8 L401.1 1361.1 L404.7 1362.4 L408.2 1363.8 L411.8 1365.1 L415.3 1366.5 L418.9 1367.9 L422.4 1369.2 L426.0 1370.6 L429.5 1372.0 L433.1 1373.4 L436.6 1374.8 L440.2 1376.2 L443.7 1377.6 L447.2 1379.0 L450.8 1380.4 L454.3 1381.8 L457.8 1383.2 L461.4 1384.6 L464.9 1386.1 L468.4 1387.5 L472.0 1389.0 L475.5 1390.4 L479.0 1391.9 L482.5 1393.3 L486.1 1394.8 L489.6 1396.3 L493.1 1397.7 L496.6 1399.2 L500.1 1400.7 L503.6 1402.2 L507.2 1403.7 L510.7 1405.2 L514.2 1406.7 L517.7 1408.2 L521.2 1409.7 L524.7 1411.3 L528.2 1412.8 L531.7 1414.3 L535.2 1415.9 L538.7 1417.4 L542.2 1419.0 L545.7 1420.5 L549.2 1422.1 L552.7 1423.6 L556.2 1425.2 L559.7 1426.8 L563.2 1428.4 L566.7 1429.9 L570.2 1431.5 L573.7 1433.1 L577.2 1434.7 L580.7 1436.3 L584.2 1437.9 L587.7 1439.5 L591.2 1441.1 L594.7 1442.8 L598.2 1444.4 L601.6 1446.0 L605.1 1447.6 L608.6 1449.2 L612.1 1450.9 L615.6 1452.5 L619.1 1454.1 L622.6 1455.8 L626.0 1457.4 L629.5 1459.0 L633.0 1460.7 L636.5 1462.3 L640.0 1464.0 L643.5 1465.6 L646.9 1467.3 L650.4 1468.9 L653.9 1470.6 L657.4 1472.2 L660.8 1473.9 L664.3 1475.5 L667.8 1477.2 L671.3 1478.9 L674.8 1480.5 L678.2 1482.2 L681.7 1483.8 L685.2 1485.5 L688.7 1487.1 L692.1 1488.8 L695.6 1490.5 L699.1 1492.1 L702.6 1493.8 L706.0 1495.4 L709.5 1497.1 L713.0 1498.8 L716.5 1500.4 L719.9 1502.1 L723.4 1503.7 L726.9 1505.4 L730.4 1507.0 L733.8 1508.7 L737.3 1510.3 L740.8 1512.0 L744.3 1513.6 L747.7 1515.3 L751.2 1516.9 L754.7 1518.5 L758.2 1520.2 L761.7 1521.8 L765.1 1523.4 L768.6 1525.1 L772.1 1526.7 L775.6 1528.3 L779.0 1529.9 L782.5 1531.6 L786.0 1533.2 L789.5 1534.8 L793.0 1536.4 L796.4 1538.0 L799.9 1539.6 L803.4 1541.2 L806.9 1542.8 L810.3 1544.4 L813.8 1546.0 L817.3 1547.6 L820.8 1549.2 L824.3 1550.8 L827.8 1552.4 L831.2 1554.0 L834.7 1555.5 L838.2 1557.1 L841.7 1558.7 L845.2 1560.3 L848.7 1561.9 L852.2 1563.5 L855.7 1565.1 L859.1 1566.7 L862.6 1568.3 L866.1 1569.8 L869.6 1571.4 L873.1 1573.0 L876.6 1574.6 L880.1 1576.2 L883.6 1577.8 L887.1 1579.4 L890.6 1581.0 L894.1 1582.6 L897.6 1584.1 L901.1 1585.7 L904.6 1587.3 L908.1 1588.9 L911.6 1590.5 L915.1 1592.0 L918.6 1593.6 L922.1 1595.2 L925.6 1596.7 L929.1 1598.3 L932.6 1599.9 L936.1 1601.4 L939.6 1603.0 L943.2 1604.5 L946.7 1606.1 L950.2 1607.6 L953.7 1609.1 L957.2 1610.7 L960.7 1612.2 L964.3 1613.7 L967.8 1615.2 L971.3 1616.8 L974.8 1618.3 L978.4 1619.8 L981.9 1621.3 L985.4 1622.8 L988.9 1624.3 L992.5 1625.8 L996.0 1627.3 L999.5 1628.8 L1003.1 1630.2 L1006.6 1631.7 L1010.1 1633.2 L1013.7 1634.7 L1017.2 1636.1 L1020.8 1637.6 L1024.3 1639.0 L1027.8 1640.5 L1031.4 1641.9 L1034.9 1643.4 L1038.5 1644.8 L1042.0 1646.2 L1045.6 1647.6 L1049.1 1649.1 L1052.7 1650.5 L1056.3 1651.9 L1059.8 1653.3 L1063.4 1654.7 L1066.9 1656.1 L1070.5 1657.5 L1074.1 1658.9 L1077.6 1660.2 L1081.2 1661.6 L1084.8 1663.0 L1088.3 1664.4 L1091.9 1665.7 L1095.5 1667.1 L1099.0 1668.4 L1102.6 1669.8 L1106.2 1671.1 L1109.8 1672.4 L1113.3 1673.7 L1116.9 1675.1 L1120.5 1676.4 L1124.1 1677.7 L1127.7 1679.0 L1131.3 1680.3 L1134.9 1681.6 L1138.5 1682.9 L1142.1 1684.1 L1145.6 1685.4 L1149.2 1686.7 L1152.8 1687.9 L1156.4 1689.2 L1160.0 1690.5 L1163.6 1691.7 L1167.3 1692.9 L1170.9 1694.2 L1174.5 1695.4 L1178.1 1696.6 L1181.7 1697.8 L1185.3 1699.0 L1188.9 1700.2 L1192.5 1701.4 L1196.2 1702.6 L1199.8 1703.8 L1203.4 1705.0 L1207.0 1706.1 L1210.7 1707.3 L1214.3 1708.4 L1217.9 1709.6 L1221.6 1710.7 L1225.2 1711.9 L1228.8 1713.0 L1232.5 1714.1 L1236.1 1715.2 L1239.7 1716.3 L1243.4 1717.4 L1247.0 1718.5 L1250.7 1719.6 L1254.3 1720.7 L1258.0 1721.7 L1261.6 1722.8 L1265.3 1723.9 L1268.9 1724.9 L1272.6 1726.0 L1276.3 1727.0 L1279.9 1728.0 L1283.6 1729.0 L1287.3 1730.1 L1290.9 1731.1 L1294.6 1732.1 L1298.3 1733.0 L1302.0 1734.0 L1305.6 1735.0 L1309.3 1736.0 L1313.0 1736.9 L1316.7 1737.9 L1320.4 1738.8 L1324.1 1739.8 L1327.7 1740.7 L1331.4 1741.6 L1335.1 1742.5 L1338.8 1743.4 L1342.5 1744.3 L1346.2 1745.2 L1349.9 1746.1 L1353.6 1746.9 L1357.3 1747.8 L1361.1 1748.7 L1364.8 1749.5 L1368.5 1750.4 L1372.2 1751.2 L1375.9 1752.0 L1379.6 1752.8 L1383.4 1753.6 L1387.1 1754.4 L1390.8 1755.2 L1394.5 1756.0 L1398.3 1756.8 L1402.0 1757.6 L1405.7 1758.3 L1409.5 1759.1 L1413.2 1759.8 L1417.0 1760.6 L1420.7 1761.3 L1424.5 1762.0 L1428.2 1762.7 L1432.0 1763.4 L1435.7 1764.1 L1439.5 1764.8 L1443.2 1765.5 L1447.0 1766.2 L1450.8 1766.8 L1454.5 1767.5 L1458.3 1768.2 L1462.1 1768.8 L1465.8 1769.4 L1469.6 1770.1 L1473.4 1770.7 L1477.2 1771.3 L1481.0 1771.9 L1484.8 1772.5 L1488.5 1773.1 L1492.3 1773.7 L1496.1 1774.2 L1499.9 1774.8 L1503.7 1775.4 L1507.5 1775.9 L1511.3 1776.5 L1515.1 1777.0 L1518.9 1777.5 L1522.8 1778.1 L1526.6 1778.6 L1530.4 1779.1 L1534.2 1779.6 L1538.0 1780.1 L1541.9 1780.6 L1545.7 1781.0 L1549.5 1781.5 L1553.3 1782.0 L1557.2 1782.4 L1561.0 1782.9 L1564.9 1783.3 L1568.7 1783.7 L1572.5 1784.2 L1576.4 1784.6 L1580.2 1785.0 L1584.1 1785.4 L1588.0 1785.8 L1591.8 1786.2 L1595.7 1786.5 L1599.5 1786.9 L1603.4 1787.3 L1607.3 1787.6 L1611.2 1788.0 L1615.0 1788.3 L1618.9 1788.7 L1622.8 1789.0 L1626.7 1789.3 L1630.6 1789.6 L1634.5 1789.9 L1638.3 1790.2 L1642.2 1790.5 L1646.1 1790.8 L1650.0 1791.1 L1653.9 1791.3 L1657.8 1791.6 L1661.8 1791.9 L1665.7 1792.1 L1669.6 1792.3 L1673.5 1792.6 L1677.4 1792.8 L1681.3 1793.0"/>
<path class="c pu" d="M242.1 1226.9 L245.6 1228.5 L249.1 1230.1 L252.7 1231.7 L256.2 1233.3 L259.7 1234.9 L263.3 1236.5 L266.8 1238.1 L270.3 1239.7 L273.9 1241.3 L277.4 1242.9 L280.9 1244.6 L284.4 1246.2 L288.0 1247.8 L291.5 1249.4 L295.0 1251.1 L298.5 1252.7 L302.0 1254.3 L305.6 1256.0 L309.1 1257.6 L312.6 1259.3 L316.1 1260.9 L319.6 1262.6 L323.1 1264.2 L326.7 1265.9 L330.2 1267.5 L333.7 1269.2 L337.2 1270.8 L340.7 1272.5 L344.2 1274.2 L347.7 1275.8 L351.2 1277.5 L354.7 1279.2 L358.2 1280.9 L361.7 1282.5 L365.2 1284.2 L368.7 1285.9 L372.2 1287.6 L375.7 1289.3 L379.2 1291.0 L382.7 1292.6 L386.2 1294.3 L389.7 1296.0 L393.2 1297.7 L396.7 1299.4 L400.2 1301.1 L403.7 1302.8 L407.2 1304.5 L410.7 1306.2 L414.1 1308.0 L417.6 1309.7 L421.1 1311.4 L424.6 1313.1 L428.1 1314.8 L431.6 1316.5 L435.1 1318.2 L438.5 1320.0 L442.0 1321.7 L445.5 1323.4 L449.0 1325.1 L452.5 1326.9 L456.0 1328.6 L459.4 1330.3 L462.9 1332.1 L466.4 1333.8 L469.9 1335.6 L473.4 1337.3 L476.8 1339.0 L480.3 1340.8 L483.8 1342.5 L487.3 1344.3 L490.8 1346.0 L494.2 1347.8 L497.7 1349.5 L501.2 1351.3 L504.7 1353.0 L508.1 1354.8 L511.6 1356.5 L515.1 1358.3 L518.5 1360.1 L522.0 1361.8 L525.5 1363.6 L529.0 1365.3 L532.4 1367.1 L535.9 1368.9 L539.4 1370.6 L542.9 1372.4 L546.3 1374.2 L549.8 1375.9 L553.3 1377.7 L556.7 1379.5 L560.2 1381.3 L563.7 1383.0 L567.1 1384.8 L570.6 1386.6 L574.1 1388.4 L577.6 1390.1 L581.0 1391.9 L584.5 1393.7 L588.0 1395.5 L591.4 1397.3 L594.9 1399.0 L598.4 1400.8 L601.8 1402.6 L605.3 1404.4 L608.8 1406.2 L612.2 1408.0 L615.7 1409.7 L619.2 1411.5 L622.6 1413.3 L626.1 1415.1 L629.6 1416.9 L633.0 1418.7 L636.5 1420.5 L640.0 1422.2 L643.5 1424.0 L646.9 1425.8 L650.4 1427.6 L653.9 1429.4 L657.3 1431.2 L660.8 1433.0 L664.3 1434.8 L667.7 1436.6 L671.2 1438.3 L674.7 1440.1 L678.2 1441.9 L681.6 1443.7 L685.1 1445.5 L688.6 1447.3 L692.0 1449.1 L695.5 1450.9 L699.0 1452.6 L702.5 1454.4 L705.9 1456.2 L709.4 1458.0 L712.9 1459.8 L716.3 1461.6 L719.8 1463.4 L723.3 1465.2 L726.8 1466.9 L730.2 1468.7 L733.7 1470.5 L737.2 1472.3 L740.7 1474.1 L744.2 1475.9 L747.6 1477.6 L751.1 1479.4 L754.6 1481.2 L758.1 1483.0 L761.5 1484.8 L765.0 1486.5 L768.5 1488.3 L772.0 1490.1 L775.5 1491.9 L779.0 1493.6 L782.4 1495.4 L785.9 1497.2 L789.4 1499.0 L792.9 1500.7 L796.4 1502.5 L799.9 1504.3 L803.3 1506.0 L806.8 1507.8 L810.3 1509.6 L813.8 1511.3 L817.3 1513.1 L820.8 1514.8 L824.3 1516.6 L827.8 1518.4 L831.3 1520.1 L834.8 1521.9 L838.3 1523.6 L841.8 1525.4 L845.3 1527.1 L848.7 1528.9 L852.2 1530.6 L855.7 1532.4 L859.2 1534.1 L862.7 1535.8 L866.2 1537.6 L869.8 1539.3 L873.3 1541.0 L876.8 1542.8 L880.3 1544.5 L883.8 1546.2 L887.3 1547.9 L890.8 1549.7 L894.3 1551.4 L897.8 1553.1 L901.3 1554.8 L904.8 1556.5 L908.3 1558.2 L911.9 1559.9 L915.4 1561.6 L918.9 1563.3 L922.4 1565.0 L925.9 1566.7 L929.4 1568.4 L933.0 1570.1 L936.5 1571.8 L940.0 1573.5 L943.5 1575.1 L947.1 1576.8 L950.6 1578.5 L954.1 1580.1 L957.7 1581.8 L961.2 1583.5 L964.7 1585.1 L968.2 1586.8 L971.8 1588.4 L975.3 1590.1 L978.9 1591.7 L982.4 1593.4 L985.9 1595.0 L989.5 1596.6 L993.0 1598.2 L996.6 1599.9 L1000.1 1601.5 L1003.7 1603.1 L1007.2 1604.7 L1010.8 1606.3 L1014.3 1607.9 L1017.9 1609.5 L1021.4 1611.1 L1025.0 1612.7 L1028.5 1614.3 L1032.1 1615.9 L1035.6 1617.4 L1039.2 1619.0 L1042.8 1620.6 L1046.3 1622.1 L1049.9 1623.7 L1053.5 1625.2 L1057.0 1626.8 L1060.6 1628.3 L1064.2 1629.9 L1067.8 1631.4 L1071.3 1632.9 L1074.9 1634.4 L1078.5 1636.0 L1082.1 1637.5 L1085.7 1639.0 L1089.2 1640.5 L1092.8 1642.0 L1096.4 1643.5 L1100.0 1645.0 L1103.6 1646.4 L1107.2 1647.9 L1110.8 1649.4 L1114.4 1650.8 L1118.0 1652.3 L1121.6 1653.7 L1125.2 1655.2 L1128.8 1656.6 L1132.4 1658.1 L1136.0 1659.5 L1139.6 1660.9 L1143.2 1662.3 L1146.8 1663.7 L1150.5 1665.1 L1154.1 1666.5 L1157.7 1667.9 L1161.3 1669.3 L1164.9 1670.7 L1168.6 1672.1 L1172.2 1673.4 L1175.8 1674.8 L1179.5 1676.1 L1183.1 1677.5 L1186.7 1678.8 L1190.4 1680.2 L1194.0 1681.5 L1197.6 1682.8 L1201.3 1684.1 L1204.9 1685.4 L1208.6 1686.7 L1212.2 1688.0 L1215.9 1689.3 L1219.5 1690.6 L1223.2 1691.8 L1226.9 1693.1 L1230.5 1694.4 L1234.2 1695.6 L1237.8 1696.9 L1241.5 1698.1 L1245.2 1699.3 L1248.9 1700.5 L1252.5 1701.7 L1256.2 1703.0 L1259.9 1704.1 L1263.6 1705.3 L1267.3 1706.5 L1270.9 1707.7 L1274.6 1708.9 L1278.3 1710.0 L1282.0 1711.2 L1285.7 1712.3 L1289.4 1713.4 L1293.1 1714.6 L1296.8 1715.7 L1300.5 1716.8 L1304.2 1717.9 L1307.9 1719.0 L1311.6 1720.1 L1315.4 1721.2 L1319.1 1722.2 L1322.8 1723.3 L1326.5 1724.4 L1330.3 1725.4 L1334.0 1726.5 L1337.7 1727.5 L1341.4 1728.5 L1345.2 1729.5 L1348.9 1730.5 L1352.7 1731.5 L1356.4 1732.5 L1360.2 1733.5 L1363.9 1734.5 L1367.7 1735.5 L1371.4 1736.4 L1375.2 1737.4 L1378.9 1738.3 L1382.7 1739.3 L1386.5 1740.2 L1390.2 1741.1 L1394.0 1742.0 L1397.8 1742.9 L1401.5 1743.8 L1405.3 1744.7 L1409.1 1745.6 L1412.9 1746.4 L1416.7 1747.3 L1420.5 1748.2 L1424.3 1749.0 L1428.1 1749.8 L1431.9 1750.7 L1435.7 1751.5 L1439.5 1752.3 L1443.3 1753.1 L1447.1 1753.9 L1450.9 1754.7 L1454.7 1755.4 L1458.5 1756.2 L1462.4 1757.0 L1466.2 1757.7 L1470.0 1758.4 L1473.8 1759.2 L1477.7 1759.9 L1481.5 1760.6 L1485.4 1761.3 L1489.2 1762.0 L1493.1 1762.7 L1496.9 1763.4 L1500.8 1764.0 L1504.6 1764.7 L1508.5 1765.3 L1512.3 1766.0 L1516.2 1766.6 L1520.1 1767.2 L1523.9 1767.9 L1527.8 1768.5 L1531.7 1769.1 L1535.6 1769.6 L1539.5 1770.2 L1543.4 1770.8 L1547.2 1771.3 L1551.1 1771.9 L1555.0 1772.4 L1558.9 1773.0 L1562.8 1773.5 L1566.8 1774.0 L1570.7 1774.5 L1574.6 1775.0 L1578.5 1775.5 L1582.4 1776.0 L1586.3 1776.4 L1590.3 1776.9 L1594.2 1777.3 L1598.1 1777.8 L1602.1 1778.2 L1606.0 1778.6 L1610.0 1779.0 L1613.9 1779.4 L1617.9 1779.8 L1621.8 1780.2 L1625.8 1780.5 L1629.8 1780.9 L1633.7 1781.2 L1637.7 1781.6 L1641.7 1781.9 L1645.6 1782.2 L1649.6 1782.5 L1653.6 1782.8 L1657.6 1783.1 L1661.6 1783.4 L1665.6 1783.7 L1669.6 1783.9 L1673.6 1784.2 L1677.6 1784.4 L1681.6 1784.7"/>
<path class="c gr" d="M241.5 1232.1 L245.0 1233.7 L248.5 1235.3 L252.0 1236.9 L255.5 1238.5 L258.9 1240.1 L262.4 1241.7 L265.9 1243.4 L269.4 1245.0 L272.9 1246.6 L276.3 1248.2 L279.8 1249.9 L283.3 1251.5 L286.8 1253.1 L290.3 1254.8 L293.7 1256.4 L297.2 1258.0 L300.7 1259.7 L304.2 1261.3 L307.6 1263.0 L311.1 1264.6 L314.6 1266.3 L318.1 1267.9 L321.5 1269.6 L325.0 1271.3 L328.5 1272.9 L332.0 1274.6 L335.4 1276.2 L338.9 1277.9 L342.4 1279.6 L345.9 1281.2 L349.3 1282.9 L352.8 1284.6 L356.3 1286.3 L359.7 1287.9 L363.2 1289.6 L366.7 1291.3 L370.2 1293.0 L373.6 1294.7 L377.1 1296.3 L380.6 1298.0 L384.0 1299.7 L387.5 1301.4 L391.0 1303.1 L394.5 1304.8 L397.9 1306.5 L401.4 1308.2 L404.9 1309.9 L408.3 1311.6 L411.8 1313.3 L415.3 1315.0 L418.8 1316.7 L422.2 1318.4 L425.7 1320.1 L429.2 1321.8 L432.6 1323.5 L436.1 1325.2 L439.6 1326.9 L443.0 1328.6 L446.5 1330.3 L450.0 1332.0 L453.5 1333.8 L456.9 1335.5 L460.4 1337.2 L463.9 1338.9 L467.3 1340.6 L470.8 1342.3 L474.3 1344.0 L477.7 1345.8 L481.2 1347.5 L484.7 1349.2 L488.2 1350.9 L491.6 1352.6 L495.1 1354.4 L498.6 1356.1 L502.0 1357.8 L505.5 1359.5 L509.0 1361.2 L512.5 1363.0 L515.9 1364.7 L519.4 1366.4 L522.9 1368.1 L526.3 1369.9 L529.8 1371.6 L533.3 1373.3 L536.8 1375.0 L540.2 1376.8 L543.7 1378.5 L547.2 1380.2 L550.7 1381.9 L554.1 1383.7 L557.6 1385.4 L561.1 1387.1 L564.6 1388.8 L568.0 1390.6 L571.5 1392.3 L575.0 1394.0 L578.5 1395.7 L581.9 1397.5 L585.4 1399.2 L588.9 1400.9 L592.4 1402.6 L595.8 1404.4 L599.3 1406.1 L602.8 1407.8 L606.3 1409.5 L609.8 1411.2 L613.2 1413.0 L616.7 1414.7 L620.2 1416.4 L623.7 1418.1 L627.2 1419.8 L630.6 1421.6 L634.1 1423.3 L637.6 1425.0 L641.1 1426.7 L644.6 1428.4 L648.1 1430.1 L651.5 1431.9 L655.0 1433.6 L658.5 1435.3 L662.0 1437.0 L665.5 1438.7 L669.0 1440.4 L672.5 1442.1 L676.0 1443.8 L679.4 1445.5 L682.9 1447.2 L686.4 1448.9 L689.9 1450.6 L693.4 1452.3 L696.9 1454.0 L700.4 1455.7 L703.9 1457.4 L707.4 1459.1 L710.9 1460.8 L714.4 1462.5 L717.9 1464.2 L721.4 1465.9 L724.9 1467.6 L728.3 1469.3 L731.8 1471.0 L735.3 1472.7 L738.8 1474.3 L742.3 1476.0 L745.8 1477.7 L749.4 1479.4 L752.9 1481.1 L756.4 1482.7 L759.9 1484.4 L763.4 1486.1 L766.9 1487.7 L770.4 1489.4 L773.9 1491.1 L777.4 1492.7 L780.9 1494.4 L784.4 1496.1 L787.9 1497.7 L791.4 1499.4 L794.9 1501.0 L798.5 1502.7 L802.0 1504.3 L805.5 1506.0 L809.0 1507.6 L812.5 1509.3 L816.0 1510.9 L819.6 1512.5 L823.1 1514.2 L826.6 1515.8 L830.1 1517.4 L833.6 1519.1 L837.2 1520.7 L840.7 1522.3 L844.2 1523.9 L847.7 1525.5 L851.3 1527.2 L854.8 1528.8 L858.3 1530.4 L861.8 1532.0 L865.4 1533.6 L868.9 1535.2 L872.4 1536.8 L876.0 1538.4 L879.5 1540.0 L883.0 1541.6 L886.6 1543.2 L890.1 1544.7 L893.7 1546.3 L897.2 1547.9 L900.7 1549.5 L904.3 1551.1 L907.8 1552.6 L911.4 1554.2 L914.9 1555.8 L918.5 1557.3 L922.0 1558.9 L925.6 1560.4 L929.1 1562.0 L932.7 1563.5 L936.2 1565.1 L939.8 1566.6 L943.3 1568.1 L946.9 1569.7 L950.4 1571.2 L954.0 1572.7 L957.5 1574.2 L961.1 1575.8 L964.7 1577.3 L968.2 1578.8 L971.8 1580.3 L975.4 1581.8 L978.9 1583.3 L982.5 1584.8 L986.1 1586.3 L989.6 1587.8 L993.2 1589.3 L996.8 1590.8 L1000.4 1592.2 L1003.9 1593.7 L1007.5 1595.2 L1011.1 1596.6 L1014.7 1598.1 L1018.3 1599.6 L1021.8 1601.0 L1025.4 1602.5 L1029.0 1603.9 L1032.6 1605.3 L1036.2 1606.8 L1039.8 1608.2 L1043.4 1609.6 L1047.0 1611.1 L1050.5 1612.5 L1054.1 1613.9 L1057.7 1615.3 L1061.3 1616.7 L1064.9 1618.1 L1068.5 1619.5 L1072.1 1620.9 L1075.7 1622.3 L1079.4 1623.7 L1083.0 1625.0 L1086.6 1626.4 L1090.2 1627.8 L1093.8 1629.1 L1097.4 1630.5 L1101.0 1631.8 L1104.6 1633.2 L1108.3 1634.5 L1111.9 1635.9 L1115.5 1637.2 L1119.1 1638.5 L1122.7 1639.9 L1126.4 1641.2 L1130.0 1642.5 L1133.6 1643.8 L1137.3 1645.1 L1140.9 1646.4 L1144.5 1647.7 L1148.2 1649.0 L1151.8 1650.3 L1155.4 1651.5 L1159.1 1652.8 L1162.7 1654.1 L1166.4 1655.3 L1170.0 1656.6 L1173.7 1657.8 L1177.3 1659.1 L1181.0 1660.3 L1184.6 1661.6 L1188.3 1662.8 L1191.9 1664.0 L1195.6 1665.2 L1199.2 1666.4 L1202.9 1667.6 L1206.6 1668.8 L1210.2 1670.0 L1213.9 1671.2 L1217.6 1672.4 L1221.2 1673.6 L1224.9 1674.7 L1228.6 1675.9 L1232.3 1677.1 L1235.9 1678.2 L1239.6 1679.4 L1243.3 1680.5 L1247.0 1681.6 L1250.7 1682.8 L1254.3 1683.9 L1258.0 1685.0 L1261.7 1686.1 L1265.4 1687.2 L1269.1 1688.3 L1272.8 1689.4 L1276.5 1690.5 L1280.2 1691.5 L1283.9 1692.6 L1287.6 1693.7 L1291.3 1694.7 L1295.0 1695.8 L1298.7 1696.8 L1302.5 1697.9 L1306.2 1698.9 L1309.9 1699.9 L1313.6 1700.9 L1317.3 1701.9 L1321.1 1702.9 L1324.8 1703.9 L1328.5 1704.9 L1332.2 1705.9 L1336.0 1706.9 L1339.7 1707.9 L1343.4 1708.8 L1347.2 1709.8 L1350.9 1710.7 L1354.7 1711.7 L1358.4 1712.6 L1362.1 1713.5 L1365.9 1714.4 L1369.6 1715.4 L1373.4 1716.3 L1377.1 1717.2 L1380.9 1718.1 L1384.7 1718.9 L1388.4 1719.8 L1392.2 1720.7 L1396.0 1721.5 L1399.7 1722.4 L1403.5 1723.2 L1407.3 1724.1 L1411.0 1724.9 L1414.8 1725.7 L1418.6 1726.6 L1422.4 1727.4 L1426.2 1728.2 L1429.9 1729.0 L1433.7 1729.7 L1437.5 1730.5 L1441.3 1731.3 L1445.1 1732.0 L1448.9 1732.8 L1452.7 1733.5 L1456.5 1734.3 L1460.3 1735.0 L1464.1 1735.7 L1467.9 1736.5 L1471.7 1737.2 L1475.6 1737.9 L1479.4 1738.5 L1483.2 1739.2 L1487.0 1739.9 L1490.8 1740.6 L1494.7 1741.2 L1498.5 1741.9 L1502.3 1742.5 L1506.2 1743.1 L1510.0 1743.8 L1513.8 1744.4 L1517.7 1745.0 L1521.5 1745.6 L1525.4 1746.2 L1529.2 1746.8 L1533.1 1747.3 L1536.9 1747.9 L1540.8 1748.4 L1544.6 1749.0 L1548.5 1749.5 L1552.3 1750.1 L1556.2 1750.6 L1560.1 1751.1 L1564.0 1751.6 L1567.8 1752.1 L1571.7 1752.6 L1575.6 1753.0 L1579.5 1753.5 L1583.3 1754.0 L1587.2 1754.4 L1591.1 1754.9 L1595.0 1755.3 L1598.9 1755.7 L1602.8 1756.1 L1606.7 1756.5 L1610.6 1756.9 L1614.5 1757.3 L1618.4 1757.7 L1622.3 1758.1 L1626.2 1758.4 L1630.2 1758.8 L1634.1 1759.1 L1638.0 1759.4 L1641.9 1759.7 L1645.9 1760.1 L1649.8 1760.4 L1653.7 1760.6 L1657.7 1760.9 L1661.6 1761.2 L1665.5 1761.5 L1669.5 1761.7 L1673.4 1761.9 L1677.4 1762.2 L1681.3 1762.4"/>
<path class="c re" d="M242.1 1299.9 L245.6 1301.5 L249.1 1303.0 L252.6 1304.6 L256.1 1306.1 L259.5 1307.7 L263.0 1309.2 L266.5 1310.8 L270.0 1312.3 L273.5 1313.9 L277.0 1315.4 L280.5 1317.0 L284.0 1318.6 L287.4 1320.1 L290.9 1321.7 L294.4 1323.3 L297.9 1324.8 L301.4 1326.4 L304.8 1328.0 L308.3 1329.5 L311.8 1331.1 L315.3 1332.7 L318.8 1334.2 L322.2 1335.8 L325.7 1337.4 L329.2 1339.0 L332.7 1340.6 L336.2 1342.1 L339.6 1343.7 L343.1 1345.3 L346.6 1346.9 L350.1 1348.5 L353.5 1350.1 L357.0 1351.7 L360.5 1353.2 L364.0 1354.8 L367.4 1356.4 L370.9 1358.0 L374.4 1359.6 L377.8 1361.2 L381.3 1362.8 L384.8 1364.4 L388.3 1366.0 L391.7 1367.6 L395.2 1369.2 L398.7 1370.8 L402.1 1372.4 L405.6 1374.1 L409.1 1375.7 L412.5 1377.3 L416.0 1378.9 L419.5 1380.5 L422.9 1382.1 L426.4 1383.7 L429.9 1385.4 L433.4 1387.0 L436.8 1388.6 L440.3 1390.2 L443.8 1391.9 L447.2 1393.5 L450.7 1395.1 L454.2 1396.8 L457.6 1398.4 L461.1 1400.0 L464.6 1401.7 L468.0 1403.3 L471.5 1404.9 L475.0 1406.6 L478.4 1408.2 L481.9 1409.9 L485.4 1411.5 L488.8 1413.2 L492.3 1414.8 L495.8 1416.4 L499.2 1418.1 L502.7 1419.7 L506.2 1421.4 L509.6 1423.0 L513.1 1424.7 L516.6 1426.3 L520.0 1428.0 L523.5 1429.6 L527.0 1431.3 L530.4 1433.0 L533.9 1434.6 L537.4 1436.3 L540.8 1437.9 L544.3 1439.6 L547.8 1441.2 L551.2 1442.9 L554.7 1444.6 L558.2 1446.2 L561.6 1447.9 L565.1 1449.5 L568.6 1451.2 L572.1 1452.9 L575.5 1454.5 L579.0 1456.2 L582.5 1457.8 L585.9 1459.5 L589.4 1461.2 L592.9 1462.8 L596.4 1464.5 L599.8 1466.1 L603.3 1467.8 L606.8 1469.5 L610.2 1471.1 L613.7 1472.8 L617.2 1474.4 L620.7 1476.1 L624.1 1477.8 L627.6 1479.4 L631.1 1481.1 L634.6 1482.7 L638.1 1484.4 L641.5 1486.0 L645.0 1487.7 L648.5 1489.4 L652.0 1491.0 L655.4 1492.7 L658.9 1494.3 L662.4 1496.0 L665.9 1497.6 L669.4 1499.3 L672.9 1500.9 L676.3 1502.6 L679.8 1504.2 L683.3 1505.9 L686.8 1507.5 L690.3 1509.2 L693.8 1510.8 L697.2 1512.5 L700.7 1514.1 L704.2 1515.7 L707.7 1517.4 L711.2 1519.0 L714.7 1520.7 L718.2 1522.3 L721.7 1523.9 L725.2 1525.6 L728.7 1527.2 L732.2 1528.8 L735.6 1530.5 L739.1 1532.1 L742.6 1533.7 L746.1 1535.4 L749.6 1537.0 L753.1 1538.6 L756.6 1540.2 L760.1 1541.8 L763.6 1543.5 L767.1 1545.1 L770.6 1546.7 L774.1 1548.3 L777.6 1549.9 L781.1 1551.5 L784.7 1553.1 L788.2 1554.7 L791.7 1556.3 L795.2 1558.0 L798.7 1559.5 L802.2 1561.1 L805.7 1562.7 L809.2 1564.3 L812.7 1565.9 L816.3 1567.5 L819.8 1569.1 L823.3 1570.7 L826.8 1572.3 L830.3 1573.8 L833.8 1575.4 L837.4 1577.0 L840.9 1578.6 L844.4 1580.1 L847.9 1581.7 L851.5 1583.3 L855.0 1584.8 L858.5 1586.4 L862.0 1587.9 L865.6 1589.5 L869.1 1591.0 L872.6 1592.6 L876.2 1594.1 L879.7 1595.6 L883.2 1597.2 L886.8 1598.7 L890.3 1600.2 L893.8 1601.8 L897.4 1603.3 L900.9 1604.8 L904.5 1606.3 L908.0 1607.8 L911.5 1609.3 L915.1 1610.8 L918.6 1612.3 L922.2 1613.8 L925.7 1615.3 L929.3 1616.8 L932.8 1618.3 L936.4 1619.8 L939.9 1621.3 L943.5 1622.7 L947.1 1624.2 L950.6 1625.7 L954.2 1627.1 L957.7 1628.6 L961.3 1630.1 L964.9 1631.5 L968.4 1632.9 L972.0 1634.4 L975.5 1635.8 L979.1 1637.3 L982.7 1638.7 L986.3 1640.1 L989.8 1641.5 L993.4 1642.9 L997.0 1644.3 L1000.6 1645.7 L1004.1 1647.1 L1007.7 1648.5 L1011.3 1649.9 L1014.9 1651.3 L1018.5 1652.7 L1022.0 1654.1 L1025.6 1655.4 L1029.2 1656.8 L1032.8 1658.2 L1036.4 1659.5 L1040.0 1660.9 L1043.6 1662.2 L1047.2 1663.5 L1050.8 1664.9 L1054.4 1666.2 L1058.0 1667.5 L1061.6 1668.8 L1065.2 1670.1 L1068.8 1671.5 L1072.4 1672.7 L1076.0 1674.0 L1079.6 1675.3 L1083.2 1676.6 L1086.8 1677.9 L1090.4 1679.2 L1094.0 1680.4 L1097.6 1681.7 L1101.3 1682.9 L1104.9 1684.2 L1108.5 1685.4 L1112.1 1686.7 L1115.7 1687.9 L1119.4 1689.1 L1123.0 1690.3 L1126.6 1691.5 L1130.2 1692.7 L1133.9 1693.9 L1137.5 1695.1 L1141.1 1696.3 L1144.8 1697.5 L1148.4 1698.6 L1152.1 1699.8 L1155.7 1701.0 L1159.3 1702.1 L1163.0 1703.2 L1166.6 1704.4 L1170.3 1705.5 L1173.9 1706.6 L1177.6 1707.7 L1181.2 1708.9 L1184.9 1710.0 L1188.6 1711.0 L1192.2 1712.1 L1195.9 1713.2 L1199.5 1714.3 L1203.2 1715.3 L1206.9 1716.4 L1210.5 1717.4 L1214.2 1718.5 L1217.9 1719.5 L1221.5 1720.5 L1225.2 1721.6 L1228.9 1722.6 L1232.6 1723.6 L1236.3 1724.6 L1239.9 1725.6 L1243.6 1726.5 L1247.3 1727.5 L1251.0 1728.5 L1254.7 1729.4 L1258.4 1730.4 L1262.1 1731.3 L1265.8 1732.2 L1269.5 1733.2 L1273.2 1734.1 L1276.9 1735.0 L1280.6 1735.9 L1284.3 1736.8 L1288.0 1737.6 L1291.7 1738.5 L1295.4 1739.4 L1299.1 1740.2 L1302.8 1741.1 L1306.5 1741.9 L1310.3 1742.8 L1314.0 1743.6 L1317.7 1744.4 L1321.4 1745.2 L1325.1 1746.0 L1328.9 1746.8 L1332.6 1747.6 L1336.3 1748.4 L1340.1 1749.2 L1343.8 1749.9 L1347.5 1750.7 L1351.3 1751.4 L1355.0 1752.2 L1358.8 1752.9 L1362.5 1753.6 L1366.3 1754.4 L1370.0 1755.1 L1373.8 1755.8 L1377.5 1756.5 L1381.3 1757.2 L1385.1 1757.9 L1388.8 1758.5 L1392.6 1759.2 L1396.3 1759.9 L1400.1 1760.5 L1403.9 1761.2 L1407.7 1761.8 L1411.4 1762.4 L1415.2 1763.0 L1419.0 1763.7 L1422.8 1764.3 L1426.6 1764.9 L1430.3 1765.5 L1434.1 1766.1 L1437.9 1766.6 L1441.7 1767.2 L1445.5 1767.8 L1449.3 1768.3 L1453.1 1768.9 L1456.9 1769.4 L1460.7 1770.0 L1464.5 1770.5 L1468.3 1771.0 L1472.1 1771.6 L1475.9 1772.1 L1479.8 1772.6 L1483.6 1773.1 L1487.4 1773.6 L1491.2 1774.0 L1495.0 1774.5 L1498.9 1775.0 L1502.7 1775.5 L1506.5 1775.9 L1510.4 1776.4 L1514.2 1776.8 L1518.0 1777.2 L1521.9 1777.7 L1525.7 1778.1 L1529.6 1778.5 L1533.4 1778.9 L1537.3 1779.3 L1541.1 1779.7 L1545.0 1780.1 L1548.9 1780.5 L1552.7 1780.9 L1556.6 1781.3 L1560.4 1781.6 L1564.3 1782.0 L1568.2 1782.3 L1572.1 1782.7 L1575.9 1783.0 L1579.8 1783.4 L1583.7 1783.7 L1587.6 1784.0 L1591.5 1784.3 L1595.4 1784.6 L1599.2 1784.9 L1603.1 1785.2 L1607.0 1785.5 L1610.9 1785.8 L1614.8 1786.1 L1618.7 1786.4 L1622.6 1786.6 L1626.6 1786.9 L1630.5 1787.2 L1634.4 1787.4 L1638.3 1787.6 L1642.2 1787.9 L1646.1 1788.1 L1650.1 1788.3 L1654.0 1788.6 L1657.9 1788.8 L1661.9 1789.0 L1665.8 1789.2 L1669.7 1789.4 L1673.7 1789.6 L1677.6 1789.8 L1681.6 1789.9"/>
<line class="tk" x1="241.3" y1="1943.7" x2="255.8" y2="1943.7"/>
<line class="tk" x1="241.3" y1="1854.0" x2="255.8" y2="1854.0"/>
<line class="tk" x1="241.3" y1="1764.2" x2="255.8" y2="1764.2"/>
<line class="tk" x1="241.3" y1="1674.5" x2="255.8" y2="1674.5"/>
<line class="tk" x1="241.3" y1="1584.8" x2="255.8" y2="1584.8"/>
<line class="tk" x1="241.3" y1="1495.1" x2="255.8" y2="1495.1"/>
<line class="tk" x1="241.3" y1="1405.4" x2="255.8" y2="1405.4"/>
<line class="tk" x1="241.3" y1="1315.6" x2="255.8" y2="1315.6"/>
<line class="tk" x1="241.3" y1="1225.9" x2="255.8" y2="1225.9"/>
<line class="tk" x1="601.5" y1="2032.8" x2="601.5" y2="2018.3"/>
<line class="tk" x1="961.6" y1="2032.8" x2="961.6" y2="2018.3"/>
<line class="tk" x1="1321.8" y1="2032.8" x2="1321.8" y2="2018.3"/>
<text class="b" text-anchor="end" x="197" y="2049.6">1.5</text>
<text class="b" text-anchor="end" x="197" y="1959.9">1.7</text>
<text class="b" text-anchor="end" x="197" y="1870.2">1.9</text>
<text class="b" text-anchor="end" x="197" y="1780.4">2.1</text>
<text class="b" text-anchor="end" x="197" y="1690.7">2.3</text>
<text class="b" text-anchor="end" x="197" y="1601.0">2.5</text>
<text class="b" text-anchor="end" x="197" y="1511.3">2.7</text>
<text class="b" text-anchor="end" x="197" y="1421.6">2.9</text>
<text class="b" text-anchor="end" x="197" y="1331.8">3.1</text>
<text class="b" text-anchor="end" x="197" y="1242.1">3.3</text>
<text class="b" text-anchor="end" x="197" y="1152.4">3.5</text>
<text class="b" text-anchor="middle" x="239.3" y="2107.5">-1</text>
<text class="b" text-anchor="middle" x="599.5" y="2107.5">-0.5</text>
<text class="b" text-anchor="middle" x="961.6" y="2107.5">0</text>
<text class="b" text-anchor="middle" x="1321.8" y="2107.5">0.5</text>
<text class="b" text-anchor="middle" x="1681.9" y="2107.5">1</text>
<text class="b" x="287" y="1203.5">(b)</text>
<text class="b" text-anchor="middle" x="961" y="2159.4">Log (F (Hz))</text>
<g transform="translate(107.5 1584.0) rotate(-90)"><text class="b" word-spacing="-1.5" x="-112.5" y="0">Log(Z (</text><text class="b om" style="font-size:37px" transform="translate(48.7 0) scale(1.120 1)" x="0" y="0">Ω</text><text class="b" x="78.8" y="0">))</text></g>
<g class="ck">
<circle cx="820.8" cy="1338" r="8.8"/>
<line x1="830" y1="1337.5" x2="907" y2="1337.5"/>
<rect x="907.2" y="1301.7" width="129.2" height="72"/>
<line x1="1036" y1="1337.5" x2="1114.2" y2="1337.5"/>
<path d="M1224.7 1250.3 H1114.2 V1414.5 H1224.7"/>
<rect x="1224.8" y="1210.6" width="137" height="80.4"/>
<rect x="1224.8" y="1380.8" width="136.4" height="73"/>
<path d="M1361.8 1250.3 H1461.9 V1414.5 H1361.2"/>
<line x1="1461.9" y1="1343.3" x2="1541" y2="1343.3"/>
<circle cx="1550.4" cy="1343.3" r="8.6"/>
</g>
<text class="r" x="948" y="1356">R<tspan class="ss" dy="11">s</tspan></text>
<text class="r" x="1263" y="1268.3">C<tspan class="ss" dy="12">dl</tspan></text>
<text class="r" x="1263" y="1435">R<tspan class="ss" dy="10">ct</tspan></text>
<line class="c cy" x1="318.4" y1="1690.8" x2="445.7" y2="1690.8"/>
<text class="r" x="487.8" y="1705.9">Pyrite</text>
<line class="c pu" x1="318.4" y1="1780.9" x2="445.7" y2="1780.9"/>
<text class="r" x="489.4" y="1800.8">Pyrite + Fe(CN)<tspan class="ss" dx="1.2" dy="12.5">6</tspan><tspan class="ss" dx="2" dy="-28.5">3−</tspan></text>
<line class="c gr" x1="318.4" y1="1870.5" x2="440.0" y2="1870.5"/>
<text class="r" x="490.6" y="1887.4">Pyrite + Fe(CN)<tspan class="ss" dx="1.2" dy="12.5">6</tspan><tspan class="ss" dx="2" dy="-25.9">3−</tspan><tspan dx="1.7" dy="13.4"> + Pb</tspan><tspan class="ss" dx="2" dy="-12">2+</tspan></text>
<line class="c re" x1="318.7" y1="1961.4" x2="440.3" y2="1961.4"/>
<text class="r" x="489.8" y="1976.9">Pyrite + Pb<tspan class="ss" dx="2" dy="-11">2+</tspan></text>
</g>
</g>
</svg></body></html>
